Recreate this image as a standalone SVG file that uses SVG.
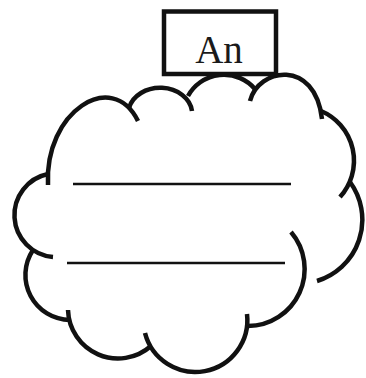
<svg xmlns="http://www.w3.org/2000/svg" width="366" height="378" viewBox="0 0 366 378">
<style>
.bump{fill:none;stroke:#111;stroke-width:4.5;stroke-linecap:butt}
.rule{stroke:#111;stroke-width:2.5}
.box{fill:#fff;stroke:#111;stroke-width:4.5}
.lbl{font-family:"Liberation Serif","Times New Roman",serif;font-size:39px;fill:#1a1a1a;text-anchor:middle}
</style>
<rect width="366" height="378" fill="#fff"/>
<g id="cloud">
<path class="bump" d="M48,185 C44,112 112,68 138,121"/>
<path class="bump" d="M129,108 A32 26 0 0 1 192,111"/>
<path class="bump" d="M188,96 A41 41 0 0 1 255,89"/>
<path class="bump" d="M250,101 C258,68 315,58 322,119"/>
<path class="bump" d="M321,111 A54 54 0 0 1 340,197"/>
<path class="bump" d="M350,182 A64 64 0 0 1 317,281"/>
<path class="bump" d="M291,232 A57 57 0 0 1 248,326"/>
<path class="bump" d="M247,314 A52 52 0 0 1 145,333"/>
<path class="bump" d="M151,346 A50 50 0 0 1 68,310"/>
<path class="bump" d="M70,320 A45 45 0 0 1 33,250"/>
<path class="bump" d="M53,257 A42 42 0 0 1 48,174"/>
<line class="rule" x1="73" y1="184" x2="291" y2="184"/>
<line class="rule" x1="67" y1="263" x2="285" y2="263"/>
</g>
<g id="label-box">
<rect class="box" x="164" y="11.5" width="112" height="62.5"/>
<text class="lbl" x="219" y="63">An</text>
</g>
</svg>
